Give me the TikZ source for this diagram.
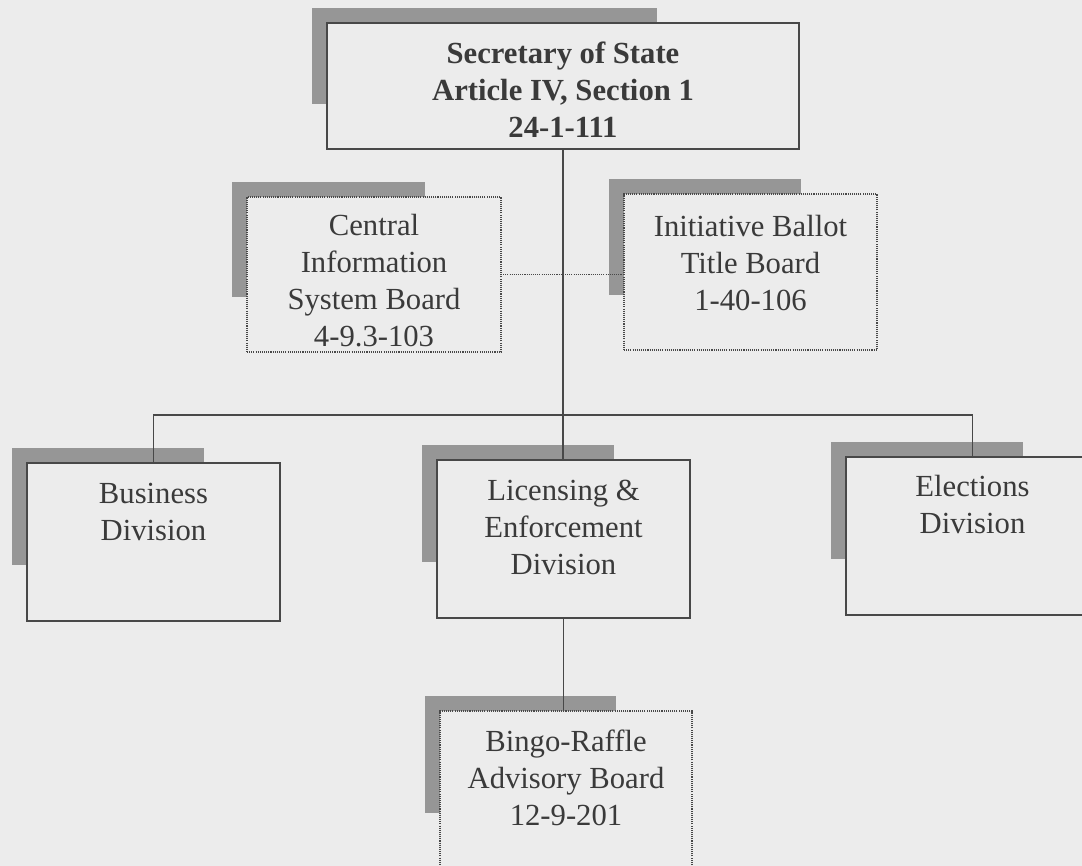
\documentclass[tikz,border=0pt]{standalone}
\usepackage{fontspec}
\setmainfont{Liberation Serif}
\usetikzlibrary{calc}
\definecolor{paper}{RGB}{236,236,236}
\definecolor{ink}{RGB}{72,72,72}
\definecolor{txt}{RGB}{58,58,58}
\definecolor{shadowgray}{RGB}{150,150,150}
\pgfdeclarelayer{paperlayer}
\pgfdeclarelayer{shadowlayer}
\pgfsetlayers{paperlayer,shadowlayer,main}
\begin{document}
\begin{tikzpicture}[x=0.75pt,y=-0.75pt,
  box/.style={draw=ink, line width=1.1pt, fill=paper, inner sep=0pt, outer sep=0pt},
  dotbox/.style={box, line width=1pt, dash pattern=on 0.8pt off 0.8pt},
  lbl/.style={text=txt, align=center, inner sep=0pt, font=\fontsize{23}{27.75}\selectfont},
  conn/.style={draw=ink, line width=1pt},
  dotconn/.style={draw=ink, line width=0.9pt, dash pattern=on 0.8pt off 0.8pt}]
\useasboundingbox (0,0) rectangle (1082,866);
\begin{pgfonlayer}{paperlayer}
  \fill[paper] (0,0) rectangle (1082,866);
\end{pgfonlayer}

% boxes
\node[box, minimum width=354pt, minimum height=94.5pt] (top) at (563,86) {};
\node[dotbox, minimum width=190.5pt, minimum height=116.25pt] (cen) at (374,274.5) {};
\node[dotbox, minimum width=189.75pt, minimum height=117pt] (ini) at (750.5,272) {};
\node[box, minimum width=189.75pt, minimum height=118.5pt] (bus) at (153.5,542) {};
\node[box, minimum width=189.75pt, minimum height=118.5pt] (lic) at (563.5,539) {};
\node[box, minimum width=189.75pt, minimum height=118.5pt] (ele) at (972.5,536) {};
\node[dotbox, minimum width=189pt, minimum height=118.5pt] (bin) at (566,790) {};

% texts
\node[lbl, font=\fontsize{23}{27.75}\selectfont\bfseries] (topt) at (563,90) {Secretary of State\\Article IV, Section 1\\24-1-111};
\node[lbl] (cent) at (374,281) {Central\\Information\\System Board\\4-9.3-103};
\node[lbl] (init) at (750.5,263) {Initiative Ballot\\Title Board\\1-40-106};
\node[lbl] (bust) at (153.5,512) {Business\\Division};
\node[lbl] (lict) at (563.5,527) {Licensing \&\\Enforcement\\Division};
\node[lbl] (elet) at (972.5,505) {Elections\\Division};
\node[lbl] (bint) at (566,778) {Bingo-Raffle\\Advisory Board\\12-9-201};

% shadows
\begin{pgfonlayer}{shadowlayer}
\foreach \bx in {top,cen,ini,bus,lic,ele,bin}{
  \fill[shadowgray] let \p1=(\bx.north west), \p2=(\bx.south east) in
    (\x1-11.25pt,\y1+11.25pt) rectangle ({\x1+0.7*(\x2-\x1)},{\y1+0.645*(\y2-\y1)});
}
\end{pgfonlayer}

% connectors
\coordinate (bar) at (563,415);
\draw[conn] (top.south) -- (top.south |- lic.north);
\draw[conn] (bus.north) |- (bar) -| (ele.north);
\draw[conn] (lic.south) -- (lic.south |- bin.north);
\draw[dotconn] (cen.east) -- (cen.east -| ini.west);
\end{tikzpicture}
\end{document}
